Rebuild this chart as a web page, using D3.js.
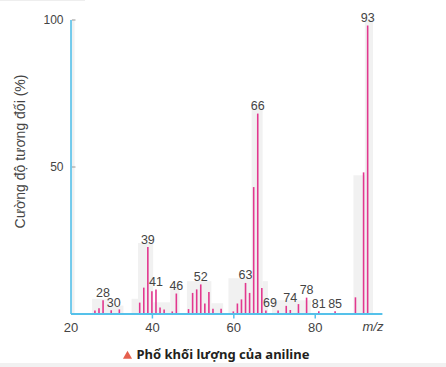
<!DOCTYPE html>
<html>
<head>
<meta charset="utf-8">
<script src="https://cdn.jsdelivr.net/npm/d3@7"></script>
<style>
  body { margin: 0; background: #fff; }
  text { font-family: "Liberation Sans", Arial, sans-serif; }
</style>
</head>
<body>
<div id="chart"></div>
<script>

// peaks of the aniline mass spectrum (m/z, relative intensity %)
var mzValues = [26, 27, 28, 30, 32, 37, 38, 39, 40, 41, 42, 43, 45, 46,
	49, 50, 51, 52, 53, 54, 55, 57, 60, 61, 62, 63, 64, 65, 66, 67,
	68, 71, 73, 74, 76, 78, 81, 85, 90, 92, 93];
var intensities = [1.0, 1.8, 4.5, 1.1, 1.4, 3.7, 8.8, 22.6, 7.6, 8.2, 2.0, 1.4, 0.7, 6.8,
	1.5, 7.0, 8.2, 9.9, 3.4, 7.3, 1.6, 1.6, 0.7, 3.4, 4.8, 10.4, 7.0, 43, 68, 8.7,
	1.0, 1.0, 2.6, 1.2, 3.2, 5.4, 0.8, 0.8, 5.5, 48, 98];

// peaks that carry a number
var labelledPeaks = [28, 30, 39, 41, 46, 52, 63, 66, 69, 74, 78, 81, 85, 93];

// faint grey shadow bands behind the peak groups (from m/z, to m/z, level %)
var shadeFrom  = [20, 25.3, 29.7, 35, 36.6, 40.3, 44.5, 48.6, 54.6, 58.8, 64.5, 67.2, 69.5, 89.5, 92.3];
var shadeTo    = [21, 29.7, 33, 36.6, 40.3, 44.5, 46.8, 54.6, 57.5, 64.7, 67.2, 68.5, 79, 92.3, 94.3];
var shadeLevel = [100, 5, 2.7, 5, 24, 3.8, 8.5, 11, 3.5, 12, 70, 11, 4.5, 47, 100];

var xTicks = [20, 40, 60, 80];
var yTicks = [50, 100];

var yTitle = "Cường độ tương đối (%)";
var caption = "Phổ khối lượng của aniline";

var width = 446,
	height = 367;

var axisColor = '#55c1ea',
	barColor = '#e2388f',
	textColor = '#444';

var svg = d3.select("#chart")
	.append("svg")
	.attr("width", width)
	.attr("height", height);

var x = d3.scaleLinear()
	.domain([20, 96.5])
	.range([70.5, 381.9]);

var y = d3.scaleLinear()
	.domain([0, 100])
	.range([313.5, 19.5]);

// thin grey edges of the page
svg.append("rect")
	.attr("x", 0).attr("y", 363)
	.attr("width", width).attr("height", 4)
	.attr("fill", "#f1f1f1");
svg.append("rect")
	.attr("x", 0).attr("y", 0)
	.attr("width", 85).attr("height", 1)
	.attr("fill", "#eee");

// shadow bands
var shades = shadeFrom.map(function(d, i) {
	return { from: d, to: shadeTo[i], level: shadeLevel[i] };
});

svg.append("g")
	.selectAll("rect")
	.data(shades)
		.enter()
	.append("rect")
	.attr("x", function(d) { return x(d.from); })
	.attr("width", function(d) { return x(d.to) - x(d.from); })
	.attr("y", function(d) { return y(d.level); })
	.attr("height", function(d) { return y(0) - y(d.level); })
	.attr("fill", "#f1f1f1");

// peaks
var peaks = mzValues.map(function(d, i) {
	return { mz: d, value: intensities[i] };
});

svg.append("g")
	.selectAll("line")
	.data(peaks)
		.enter()
	.append("line")
	.attr("x1", function(d) { return x(d.mz); })
	.attr("x2", function(d) { return x(d.mz); })
	.attr("y1", y(0))
	.attr("y2", function(d) { return y(d.value); })
	.attr("stroke", barColor)
	.attr("stroke-width", 1.6);

// peak numbers sit just above the highest neighbouring peak
function labelLevel(m) {
	var near = peaks.filter(function(p) { return Math.abs(p.mz - m) <= 1; });
	return d3.max(near, function(p) { return p.value; }) || 0;
}

svg.append("g")
	.selectAll("text")
	.data(labelledPeaks)
		.enter()
	.append("text")
	.attr("x", function(d) { return x(d) + (d === 30 ? 2.5 : 0); })
	.attr("y", function(d) { return y(labelLevel(d)) - 3.5; })
	.attr("text-anchor", "middle")
	.attr("font-size", "12.5px")
	.attr("fill", textColor)
	.text(function(d) { return d; });

// x axis
var xAxis = svg.append("g")
	.attr("transform", "translate(0," + y(0) + ")")
	.call(d3.axisBottom(x)
		.tickValues(xTicks)
		.tickSize(5)
		.tickSizeOuter(0)
		.tickPadding(4));

xAxis.select(".domain")
	.attr("stroke", axisColor)
	.attr("stroke-width", 2);
xAxis.selectAll(".tick line")
	.attr("stroke", axisColor)
	.attr("stroke-width", 1.5)
	.attr("opacity", function(d) { return d === 20 ? 0 : 1; });
xAxis.selectAll(".tick text")
	.attr("font-size", "13px")
	.attr("fill", textColor)
	.style("font-family", '"Liberation Sans", Arial, sans-serif');

svg.append("text")
	.attr("x", 373)
	.attr("y", 331)
	.attr("text-anchor", "middle")
	.attr("font-size", "13px")
	.attr("font-style", "italic")
	.attr("fill", textColor)
	.text("m/z");

// y axis
var yAxis = svg.append("g")
	.attr("transform", "translate(" + x(20) + ",0)")
	.call(d3.axisLeft(y)
		.tickValues(yTicks)
		.tickSize(-5)
		.tickSizeOuter(0)
		.tickPadding(7));

yAxis.select(".domain")
	.attr("stroke", axisColor)
	.attr("stroke-width", 1.6);
yAxis.selectAll(".tick line")
	.attr("stroke", "#999")
	.attr("x1", 1.5);
yAxis.selectAll(".tick text")
	.attr("font-size", "12px")
	.attr("fill", textColor)
	.style("font-family", '"Liberation Sans", Arial, sans-serif');

svg.append("text")
	.attr("transform", "translate(24.5,151.5) rotate(-90)")
	.attr("text-anchor", "middle")
	.attr("font-size", "14px")
	.attr("fill", textColor)
	.text(yTitle);

// caption
svg.append("path")
	.attr("d", d3.symbol(d3.symbolTriangle).size(36)())
	.attr("transform", "translate(127.5,356)")
	.attr("fill", "#e5604e");

svg.append("text")
	.attr("x", 136.5)
	.attr("y", 358.5)
	.attr("font-size", "13px")
	.attr("font-weight", "bold")
	.attr("fill", "#231f20")
	.style("font-family", '"Noto Sans", "Liberation Sans", sans-serif')
	.text(caption);

</script>
</body>
</html>
